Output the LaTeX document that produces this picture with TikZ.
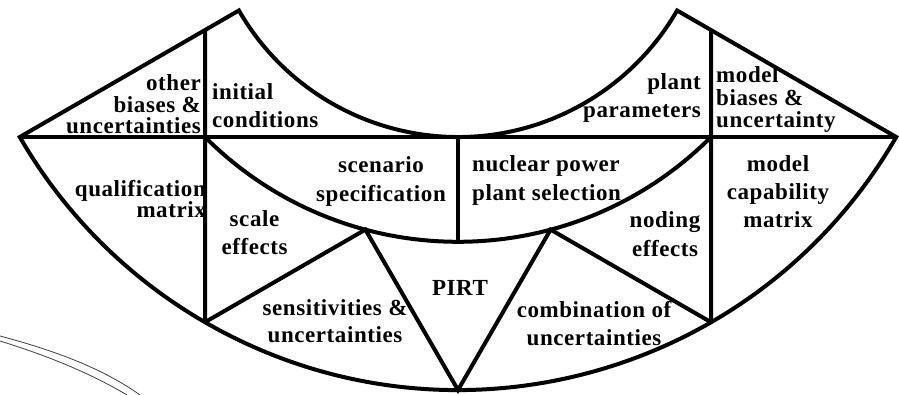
\documentclass[tikz,border=0pt]{standalone}
\usepackage{fontspec}
\newfontfamily\lblfont{Liberation Serif}[LetterSpace=2.5]
\usetikzlibrary{calc}
% stacked lines with a fixed baseline distance; the box's base is the first line
\newcommand\rlines[2]{\vtop{\baselineskip=#1\relax\halign{\hfil##\cr#2\crcr}}}
\newcommand\llines[2]{\vtop{\baselineskip=#1\relax\halign{##\hfil\cr#2\crcr}}}
\newcommand\clines[2]{\vtop{\baselineskip=#1\relax\halign{\hfil##\hfil\cr#2\crcr}}}
\tikzset{
  txt/.style={inner sep=0pt, text=black, font=\lblfont\bfseries\fontsize{23}{28}\selectfont},
  edge/.style={draw=black, line width=4pt},
  rim/.style={draw=black!75, line width=0.8pt}
}
\begin{document}
\begin{tikzpicture}[x=1pt,y=-1pt]
\fill[white] (0,0) rectangle (899,395);
\useasboundingbox (0,0) rectangle (899,395);

% common centre of all arcs
\coordinate (O) at (458,-116);
% outer corners and peaks
\coordinate (A) at ($(O)+(150:506)$);
\coordinate (D) at ($(O)+(30:506)$);
\coordinate (B) at ($(O)+(150:253)$);
\coordinate (C) at ($(O)+(30:253)$);
% vertical dividers
\coordinate (LT) at ($(O)+(150:292.14)$);
\coordinate (LB) at ($(O)+(120:506)$);
\coordinate (RT) at ($(O)+(30:292.14)$);
\coordinate (RB) at ($(O)+(60:506)$);
% middle ring
\coordinate (ML) at ($(O)+(135:357.8)$);
\coordinate (MR) at ($(O)+(45:357.8)$);
\coordinate (T) at ($(O)+(90:253)$);
\coordinate (M) at ($(O)+(90:357.8)$);
% PIRT triangle
\coordinate (P1) at ($(O)+(105:357.8)$);
\coordinate (P2) at ($(O)+(75:357.8)$);
\coordinate (PB) at ($(O)+(90:506)$);

% labels
\node[txt, anchor=base east] (other) at (201,91) {\rlines{21.5pt}{other\cr biases \&\cr uncertainties}};
\node[txt, anchor=base west] (init) at (212,100) {\llines{28pt}{initial\cr conditions}};
\node[txt, anchor=base east] (plant) at (701,90) {\rlines{28pt}{plant\cr parameters}};
\node[txt, anchor=base west] (mbias) at (716,83) {\llines{22.5pt}{model\cr biases \&\cr uncertainty}};
\node[txt, anchor=base east] (qual) at (206,197) {\rlines{21pt}{qualification\cr matrix}};
\node[txt, anchor=base] (scen) at (381,173) {\clines{29pt}{scenario\cr specification}};
\node[txt, anchor=base west] (npp) at (472,172) {\llines{29pt}{nuclear power\cr plant selection}};
\node[txt, anchor=base] (mcap) at (778,172) {\clines{28pt}{model\cr capability\cr matrix}};
\node[txt, anchor=base] (scale) at (254.5,227) {\clines{28pt}{scale\cr effects}};
\node[txt, anchor=base] (noding) at (665,228) {\clines{29pt}{noding\cr effects}};
\node[txt, anchor=base] (sens) at (335,315) {\clines{27pt}{sensitivities \&\cr uncertainties}};
\node[txt, anchor=base] (comb) at (594,317) {\clines{28pt}{combination of\cr uncertainties}};
\node[txt, anchor=base] (pirt) at (460,295) {PIRT};

% outline
\draw[edge] (A) -- (B) arc[start angle=150, end angle=30, radius=253] -- (D)
  arc[start angle=30, end angle=150, radius=506] -- cycle;
% horizontal divider
\draw[edge] (A) -- (D);
% verticals
\draw[edge] (LT) -- (LB);
\draw[edge] (RT) -- (RB);
\draw[edge] (T) -- (M);
% middle arc
\draw[edge] (ML) arc[start angle=135, end angle=45, radius=357.8];
% triangles
\draw[edge] (LB) -- (P1) -- (PB) -- (P2) -- (RB);

% thin double rim at lower left
\draw[rim] (0,336) .. controls (60,352) and (105,370) .. (140,395);
\draw[rim] (0,341) .. controls (55,358) and (95,376) .. (127,395);
\end{tikzpicture}
\end{document}
